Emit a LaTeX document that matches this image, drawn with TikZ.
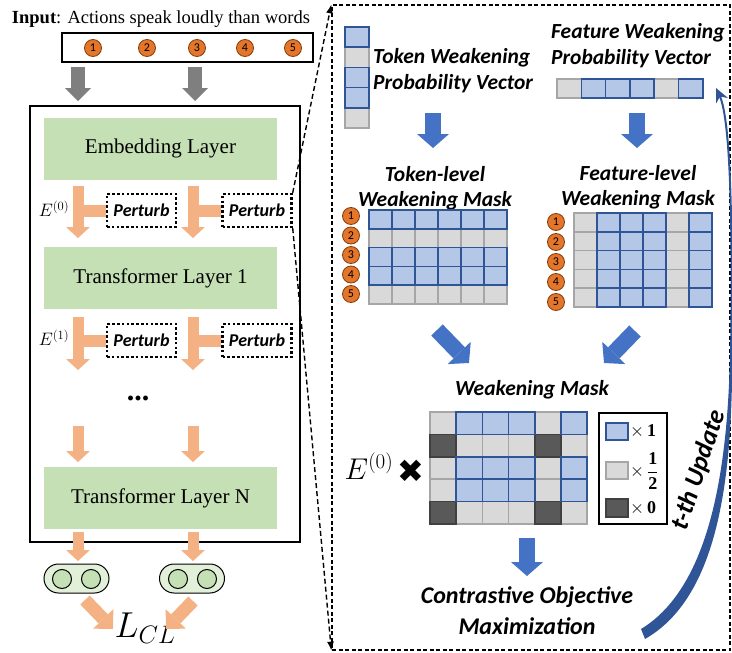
\RequirePackage{fix-cm}
\documentclass[tikz,border=0pt]{standalone}
\usepackage{fontspec}
\setmainfont{Liberation Serif}
\newfontfamily\calib{Carlito}
\newfontfamily\djv{DejaVu Sans}
\usetikzlibrary{arrows.meta,calc}
\newcommand\fs[2]{\fontsize{#1}{#2}\selectfont}
\definecolor{layergreen}{HTML}{C5E0B4}
\definecolor{capsgreen}{HTML}{E2F0D9}
\definecolor{orarrow}{HTML}{F4B183}
\definecolor{grarrow}{HTML}{7F7F7F}
\definecolor{blarrow}{HTML}{4472C4}
\definecolor{cellblue}{HTML}{B4C7E7}
\definecolor{celledge}{HTML}{2F5597}
\definecolor{cellgray}{HTML}{D9D9D9}
\definecolor{grayedge}{HTML}{A6A6A6}
\definecolor{celldark}{HTML}{595959}
\definecolor{darkedge}{HTML}{404040}
\definecolor{numorange}{HTML}{E3762B}
\definecolor{numedge}{HTML}{843C0C}
\definecolor{updblue}{HTML}{2F5597}
\tikzset{
 layer/.style={fill=layergreen, minimum width=233pt, minimum height=62pt, inner sep=0pt, font=\fs{21}{24}},
 pert/.style={draw, line width=2.4pt, dash pattern=on 2.6pt off 2.2pt, minimum width=69pt, minimum height=33pt, inner sep=0pt, font=\calib\bfseries\itshape\fs{18}{18}},
 numc/.style={circle, fill=numorange, draw=numedge, line width=0.8pt, minimum size=17pt, inner sep=0pt, font=\calib\fs{12}{12}},
 btext/.style={font=\calib\bfseries\itshape\fs{21.5}{26}, inner sep=0pt},
 garrow/.style={draw=grarrow, line width=14pt, -{Triangle[length=13pt,width=26pt,line width=0pt]}},
 oarrow/.style={draw=orarrow, line width=11pt, -{Triangle[length=11pt,width=24pt,line width=0pt]}},
 obar/.style={draw=orarrow, line width=12pt},
 oarrowbig/.style={draw=orarrow, line width=13pt, -{Triangle[length=14pt,width=28pt,line width=0pt]}},
 barrow/.style={draw=blarrow, line width=16pt, -{Triangle[length=14pt,width=32pt,line width=0pt]}},
 gcell/.style={fill=cellgray, draw=grayedge, line width=1.5pt},
 bcell/.style={fill=cellblue, draw=celledge, line width=1.6pt},
 dcell/.style={fill=celldark, draw=darkedge, line width=1.5pt},
 conn/.style={draw, line width=1.4pt, dash pattern=on 5pt off 3pt, -{Latex[length=9pt,width=7pt]}},
 capsule/.style={draw, line width=1pt, fill=capsgreen, rounded corners=14.5pt, minimum width=65pt, minimum height=29pt, inner sep=0pt},
 dotc/.style={circle, draw, line width=1pt, fill=layergreen, minimum size=19pt, inner sep=0pt},
}
\begin{document}
\begin{tikzpicture}[x=1pt,y=-1pt]
\useasboundingbox (0,0) rectangle (732,653);
% ---------------- left: encoder ----------------
\node[font=\fs{18.5}{20}] (intext) at (161,19) {\textbf{Input}: Actions speak loudly than words};
\node[draw, line width=1.2pt, minimum width=251pt, minimum height=29pt, inner sep=0pt] (inbox) at (187.5,47.5) {};
\foreach \n/\x in {1/93,2/147,3/197,4/245,5/293} \node[numc] (in\n) at (\x,48) {\n};
\coordinate (g1s) at (78,67); \coordinate (g1e) at (78,101);
\coordinate (g2s) at (195,67); \coordinate (g2e) at (195,101);
\draw[garrow] (g1s) -- (g1e);
\draw[garrow] (g2s) -- (g2e);
\node[draw, line width=1.2pt, minimum width=270pt, minimum height=436pt, inner sep=0pt] (bigbox) at (165,324) {};
\node[layer] (emb) at (160.5,148.5) {Embedding Layer};
\node[layer] (tl1) at (160.5,278) {Transformer Layer 1};
\node[layer] (tln) at (160.5,498) {Transformer Layer N};
% row 1
\node[pert] (pa) at (141.5,210.5) {Perturb};
\node[pert] (pb) at (257,210.5) {Perturb};
\coordinate (a1s) at (78,186); \coordinate (a1e) at (78,238);
\coordinate (a2s) at (193,186); \coordinate (a2e) at (193,238);
\draw[obar] (78,210.5) -- (pa.west);
\draw[obar] (193,210.5) -- (pb.west);
\draw[oarrow] (a1s) -- (a1e);
\draw[oarrow] (a2s) -- (a2e);
\node[font=\fs{18}{18}] (e0) at (54,209) {$E^{(0)}$};
% row 2
\node[pert] (pc) at (141.5,340.5) {Perturb};
\node[pert] (pd) at (257,340.5) {Perturb};
\coordinate (b1s) at (78,317); \coordinate (b1e) at (78,370);
\coordinate (b2s) at (193,317); \coordinate (b2e) at (193,370);
\draw[obar] (78,340.5) -- (pc.west);
\draw[obar] (193,340.5) -- (pd.west);
\draw[oarrow] (b1s) -- (b1e);
\draw[oarrow] (b2s) -- (b2e);
\node[font=\fs{18}{18}] (e1) at (54,338) {$E^{(1)}$};
\node[font=\fs{30}{30}\bfseries] (dots) at (138,398) {...};
\coordinate (c1s) at (78,426); \coordinate (c1e) at (78,462);
\coordinate (c2s) at (193,426); \coordinate (c2e) at (193,462);
\draw[oarrow] (c1s) -- (c1e);
\draw[oarrow] (c2s) -- (c2e);
\coordinate (d1s) at (78,532); \coordinate (d1e) at (78,561);
\coordinate (d2s) at (193,532); \coordinate (d2e) at (193,561);
\draw[oarrow] (d1s) -- (d1e);
\draw[oarrow] (d2s) -- (d2e);
\node[capsule] (cap1) at (76.5,578.5) {};
\node[capsule] (cap2) at (192,578.5) {};
\node[dotc] (cap1a) at (62,579) {};
\node[dotc] (cap1b) at (91,579) {};
\node[dotc] (cap2a) at (178,579) {};
\node[dotc] (cap2b) at (207,579) {};
\node[font=\fs{36}{36}] (lcl) at (145,628) {$L_{CL}$};
\coordinate (f1s) at (85,600); \coordinate (f1e) at (113,629);
\coordinate (f2s) at (193,601); \coordinate (f2e) at (166,629);
\draw[oarrowbig] (f1s) -- (f1e);
\draw[oarrowbig] (f2s) -- (f2e);
% ---------------- right panel ----------------
\node[draw, line width=1.3pt, dash pattern=on 4pt off 2.5pt, minimum width=398pt, minimum height=645pt, inner sep=0pt] (rbox) at (531,327.5) {};
\draw[conn] (pb.north east) -- (rbox.north west);
\draw[conn] (pb.south east) -- (rbox.south west);
% token probability vector
\foreach \i in {1,4} \draw[gcell] (345,{27+\i*20.2}) rectangle ++(24,20.2);
\foreach \i in {0,2,3} \draw[bcell] (345,{27+\i*20.2}) rectangle ++(24,20.2);
\node[btext, anchor=west, align=left] (tpv) at (373,71) {Token Weakening\\Probability Vector};
% feature probability vector
\foreach \i in {0,4} \draw[gcell] ({557+\i*24.3},79) rectangle ++(24.3,19);
\foreach \i in {1,2,3,5} \draw[bcell] ({557+\i*24.3},79) rectangle ++(24.3,19);
\node[btext, anchor=west, align=left] (fpv) at (551,46) {Feature Weakening\\Probability Vector};
% arrows down
\coordinate (h1s) at (433,113); \coordinate (h1e) at (433,148);
\coordinate (h2s) at (637,113); \coordinate (h2e) at (637,148);
\draw[barrow] (h1s) -- (h1e);
\draw[barrow] (h2s) -- (h2e);
% token-level mask
\node[btext, align=center, font=\calib\bfseries\itshape\fs{21.5}{25}] (tlm) at (435,188) {Token-level\\Weakening Mask};
\foreach \r in {1,4} \foreach \c in {0,...,5} \draw[gcell] ({369+\c*23},{210+\r*18.8}) rectangle ++(23,18.8);
\foreach \r in {0,2,3} \foreach \c in {0,...,5} \draw[bcell] ({369+\c*23},{210+\r*18.8}) rectangle ++(23,18.8);
\foreach \n in {1,...,5} \node[numc] (tn\n) at (351,{216+(\n-1)*19.5}) {\n};
% feature-level mask
\node[btext, align=center, font=\calib\bfseries\itshape\fs{21.5}{25}] (flm) at (638,187) {Feature-level\\Weakening Mask};
\foreach \c in {0,4} \foreach \r in {0,...,4} \draw[gcell] ({574+\c*23},{213+\r*18.8}) rectangle ++(23,18.8);
\foreach \c in {1,2,3,5} \foreach \r in {0,...,4} \draw[bcell] ({574+\c*23},{213+\r*18.8}) rectangle ++(23,18.8);
\foreach \n in {1,...,5} \node[numc] (fn\n) at (556,{222+(\n-1)*20}) {\n};
% diagonal arrows
\coordinate (k1s) at (437,330); \coordinate (k1e) at (469,363);
\coordinate (k2s) at (635,331); \coordinate (k2e) at (604,363);
\draw[barrow] (k1s) -- (k1e);
\draw[barrow] (k2s) -- (k2e);
% weakening mask
\node[btext] (wm) at (532,390) {Weakening Mask};
\foreach \r in {0,2,3} \foreach \c in {0,4} \draw[gcell] ({430+\c*26.2},{412+\r*22.4}) rectangle ++(26.2,22.4);
\foreach \r in {1,4} \foreach \c in {1,2,3,5} \draw[gcell] ({430+\c*26.2},{412+\r*22.4}) rectangle ++(26.2,22.4);
\foreach \r in {1,4} \foreach \c in {0,4} \draw[dcell] ({430+\c*26.2},{412+\r*22.4}) rectangle ++(26.2,22.4);
\foreach \r in {0,2,3} \foreach \c in {1,2,3,5} \draw[bcell] ({430+\c*26.2},{412+\r*22.4}) rectangle ++(26.2,22.4);
\node[font=\fs{30}{30}] (ebig) at (369,466) {$E^{(0)}$};
\node[font=\djv\fs{32}{32}] (mult) at (411,471) {✖};
% legend
\node[draw, line width=1.2pt, minimum width=68pt, minimum height=111pt, inner sep=0pt] (lgd) at (633,468.5) {};
\draw[bcell] (606,423) rectangle (628,440);
\draw[gcell] (606,462) rectangle (628,479);
\draw[dcell] (606,499) rectangle (628,517);
\node[anchor=west, inner sep=1pt, font=\fs{18}{18}] (l1) at (629,431.5) {$\times\,\mathbf{1}$};
\node[anchor=west, inner sep=1pt, font=\fs{18}{18}] (l2) at (629,471) {$\times\,\displaystyle\frac{\mathbf{1}}{\mathbf{2}}$};
\node[anchor=west, inner sep=1pt, font=\fs{18}{18}] (l3) at (629,508) {$\times\,\mathbf{0}$};
% to objective
\coordinate (m1s) at (527,538); \coordinate (m1e) at (527,576);
\draw[barrow] (m1s) -- (m1e);
\node[btext, align=center, font=\calib\bfseries\itshape\fs{24}{31}] (obj) at (527,611) {Contrastive Objective\\Maximization};
% t-th update arrow
\fill[updblue] (645,639) .. controls (724,594) and (733,460) .. (732.2,340) -- (730.2,340) .. controls (729,462) and (712,586) .. (641,629) -- cycle;
\draw[updblue, line width=2pt, -{Stealth[length=14pt,width=13pt]}] (731.2,345) .. controls (732.5,230) and (731,120) .. (716,88);
\node[font=\calib\bfseries\itshape\fs{26}{26}, rotate=72] (upd) at (699,470) {t-th Update};
\end{tikzpicture}
\end{document}
